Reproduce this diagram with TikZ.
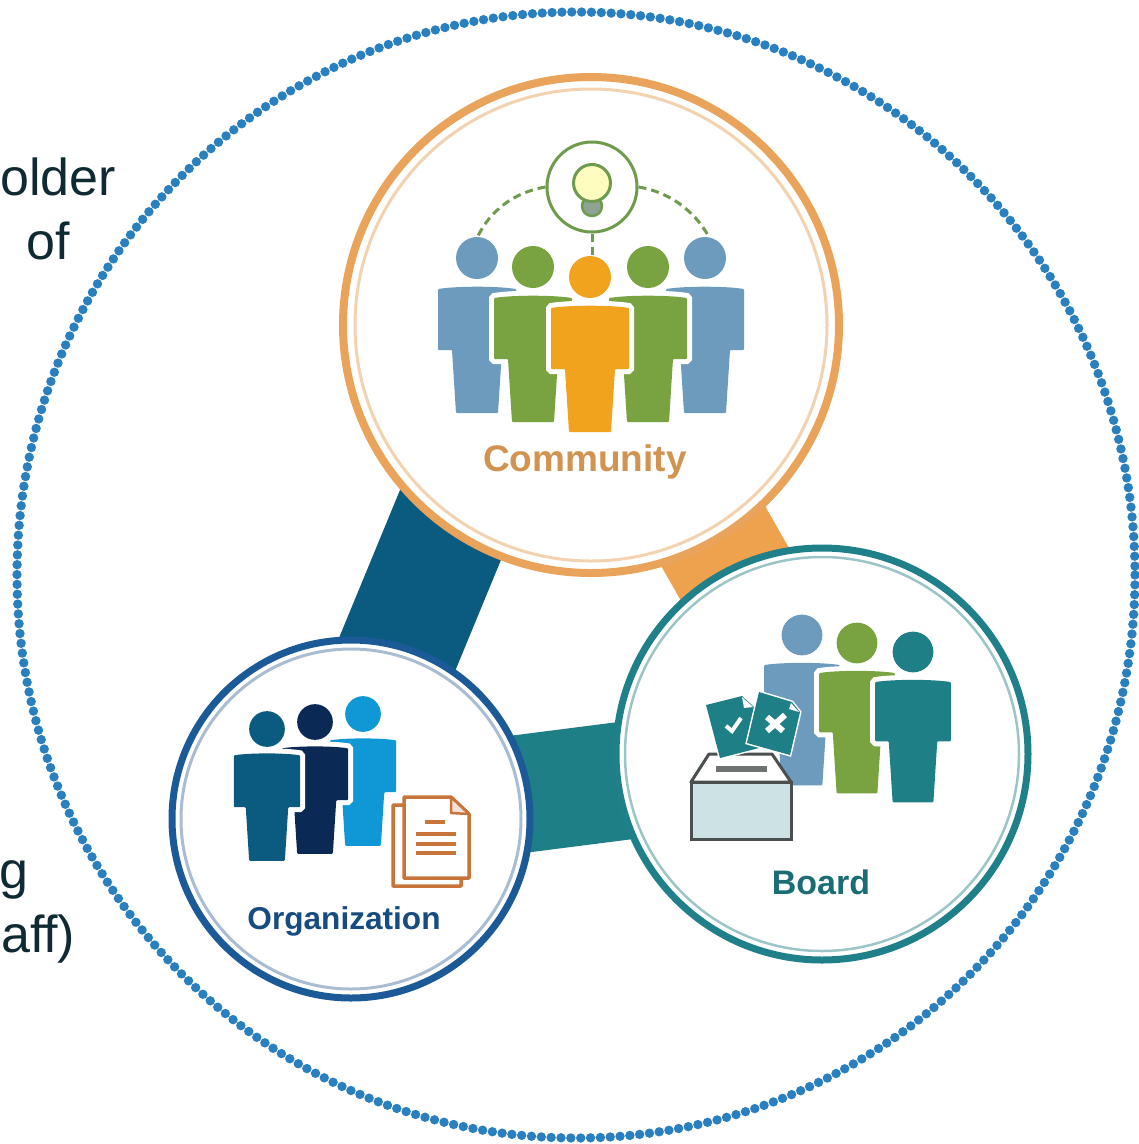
\documentclass[tikz,border=0pt]{standalone}
\usepackage{fontspec}
\setmainfont{Liberation Sans}
\usetikzlibrary{backgrounds}
\definecolor{dotblue}{HTML}{2A7FBF}
\definecolor{txtdark}{HTML}{0F2A33}
\definecolor{cOrange}{HTML}{E9A35A}
\definecolor{cOrangeL}{HTML}{F3D2B0}
\definecolor{cTeal}{HTML}{20808A}
\definecolor{cTealL}{HTML}{9CC5C8}
\definecolor{cBlue}{HTML}{1B5A96}
\definecolor{cBlueL}{HTML}{A9BDD2}
\definecolor{bandNavy}{HTML}{0B5A80}
\definecolor{bandOrange}{HTML}{EFA24E}
\definecolor{bandTeal}{HTML}{1F7F86}
\definecolor{pBlue}{HTML}{6C9BBD}
\definecolor{pGreen}{HTML}{78A340}
\definecolor{pOrange}{HTML}{F2A31D}
\definecolor{pTeal}{HTML}{1F7F86}
\definecolor{pNavy}{HTML}{0B5A80}
\definecolor{pDark}{HTML}{0A2A55}
\definecolor{pSky}{HTML}{0F98D5}
\definecolor{ideaGreen}{HTML}{6E9B4E}
\definecolor{bulbBase}{HTML}{8FA394}
\definecolor{boxGrey}{HTML}{4A4F50}
\definecolor{docBrown}{HTML}{C9743A}
\tikzset{
  ring/.style={circle,inner sep=0pt,fill=white},
  thinring/.style={circle,inner sep=0pt},
  band/.style={line width=#1},
  lbl/.style={font=\bfseries,inner sep=0pt},
  bigtxt/.style={anchor=base east,inner sep=0pt,text=txtdark,font=\fontsize{52}{64}\selectfont},
  headhalo/.style={preaction={draw=white,line width=5pt}},
  bodyhalo/.style={preaction={draw=white,line width=10pt}},
  dashlink/.style={draw=ideaGreen,line width=3pt,dash pattern=on 8pt off 5pt},
  docline/.style={draw=docBrown,line width=3.2pt},
}
\newcommand{\figperson}[4]{%
  \begin{scope}[shift={(#1,#2)},scale=#3]
    \path[fill=#4,bodyhalo,rounded corners=1pt]
      (-39,31) .. controls (-20,28) and (20,28) .. (39,31)
      -- (39,92) -- (25,92) -- (21,155) -- (-21,155) -- (-25,92) -- (-39,92) -- cycle;
    \path[fill=#4,headhalo] (0,0) circle (21);
  \end{scope}}
\begin{document}
\begin{tikzpicture}[x=1pt,y=-1pt]
\useasboundingbox (0,0) rectangle (1139,1144);

% outer dotted circle
\draw[dotblue,line width=9.4pt,line cap=round,dash pattern=on 0pt off 9.85pt]
  (576,575) ellipse [x radius=559,y radius=563];

% side texts
\node[bigtxt] (t1) at (116,195) {older};
\node[bigtxt] (t2) at (70,259) {of};
\node[bigtxt] (t3) at (29,888) {g};
\node[bigtxt] (t4) at (75.5,952) {aff)};

% main circles
\node[ring,draw=cOrange,line width=8pt,minimum size=496pt] (comm) at (591,325) {};
\node[thinring,draw=cOrangeL,line width=3pt,minimum size=472pt] (commi) at (comm.center) {};
\node[ring,draw=cTeal,line width=7pt,minimum size=412pt] (board) at (822,754) {};
\node[thinring,draw=cTealL,line width=2.5pt,minimum size=394pt] (boardi) at (board.center) {};
\node[ring,draw=cBlue,line width=7pt,minimum size=358pt] (org) at (351,819) {};
\node[thinring,draw=cBlueL,line width=3pt,minimum size=340pt] (orgi) at (org.center) {};

% connector bands behind the circles
\coordinate (na) at (500,405);
\coordinate (nb) at (370,720);
\coordinate (oa) at (660,443);
\coordinate (ob) at (793,676);
\coordinate (ta) at (450,803);
\coordinate (tb) at (700,771);
\begin{scope}[on background layer]
  \draw[bandNavy,band=120pt] (na) -- (nb);
  \draw[bandOrange,band=120pt] (oa) -- (ob);
  \draw[bandTeal,band=118pt] (ta) -- (tb);
\end{scope}

% community figures
\figperson{477}{258}{1}{pBlue}
\figperson{705}{258}{1}{pBlue}
\figperson{533}{267}{1}{pGreen}
\figperson{648}{267}{1}{pGreen}
\figperson{590}{277}{1}{pOrange}

% idea
\node[circle,inner sep=0pt,draw=ideaGreen,line width=3pt,minimum size=90pt] (idea) at (592,187) {};
\coordinate (hl) at (477,238);
\coordinate (hr) at (709,237);
\coordinate (hc) at (592,256);
\draw[dashlink] (idea.180) .. controls (515,192) and (490,210) .. (hl);
\draw[dashlink] (idea.0) .. controls (669,192) and (694,210) .. (hr);
\draw[dashlink] (idea.270) -- (hc);
\draw[ideaGreen,line width=2.5pt,fill=bulbBase] (592,206) circle (10);
\draw[ideaGreen,line width=3pt,fill=yellow!25!white] (592,183) circle (18.5);

\node[lbl,text=cOrange!90!black,font=\bfseries\fontsize{37}{40}\selectfont] (lc) at (585,462) {Community};

% board figures
\figperson{802}{635}{.97}{pBlue}
\figperson{857}{643}{.97}{pGreen}
\figperson{913}{652}{.97}{pTeal}

% ballot box
\draw[boxGrey,line width=3pt,fill=white,line join=round] (691,782) -- (709,754) -- (772,754) -- (791,782) -- cycle;
\draw[boxGrey,line width=3pt,fill=cTealL!50!white] (691,782) rectangle (791,839);
\fill[boxGrey!80] (716,766) rectangle (767,772);

% ballot papers
\path[fill=pTeal,preaction={draw=white,line width=3pt}] (706,705) -- (742,696) -- (754,707) -- (763,747) -- (720,758) -- cycle;
\fill[white] (742,697) -- (753,707) -- (744,708) -- cycle;
\draw[white,line width=4pt] (726,726) -- (732,731) -- (741,718);
\path[fill=pTeal,preaction={draw=white,line width=3pt}] (759,692) -- (792,702) -- (800,712) -- (790,755) -- (747,743) -- cycle;
\fill[white] (791,703) -- (799,712) -- (789,709) -- cycle;
\draw[white,line width=6pt] (767,717) -- (783,731);
\draw[white,line width=6pt] (785,715) -- (767,731);

\node[lbl,text=cTeal!85!black,font=\bfseries\fontsize{34}{38}\selectfont] (lb) at (821,882) {Board};

% organization figures
\figperson{363}{714}{.85}{pSky}
\figperson{315}{722}{.85}{pDark}
\figperson{267}{729}{.85}{pNavy}

% document icon
\path[fill=white,draw=docBrown,line width=3.5pt,line join=round] (393,805) -- (393,886) -- (461,886) -- (461,860) -- (404,805) -- cycle;
\path[fill=white,draw=docBrown,line width=3.5pt,line join=round] (404,797) -- (451,797) -- (469,814) -- (469,878) -- (404,878) -- cycle;
\path[fill=docBrown!20!white,draw=docBrown,line width=2.5pt,line join=round] (451,797) -- (451,813) -- (469,814) -- cycle;
\draw[docline] (425,822) -- (445,822);
\draw[docline] (416,834) -- (456,834);
\draw[docline] (416,844) -- (456,844);
\draw[docline] (416,853) -- (456,853);

\node[lbl,text=cBlue!85!black,font=\bfseries\fontsize{31.6}{35}\selectfont] (lo) at (344,921) {Organization};
\end{tikzpicture}
\end{document}
